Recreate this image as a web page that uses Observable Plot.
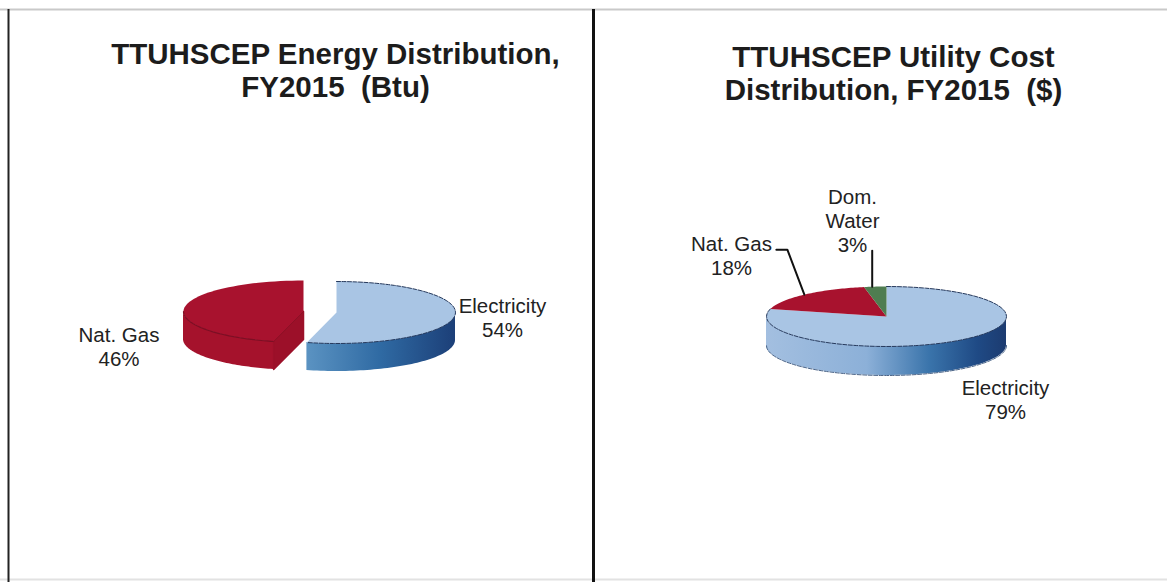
<!DOCTYPE html>
<html>
<head>
<meta charset="utf-8">
<script src="https://cdn.jsdelivr.net/npm/d3@7"></script>
<script src="https://cdn.jsdelivr.net/npm/@observablehq/plot@0.6"></script>
<style>html,body{margin:0;padding:0;background:#fff}svg{display:block}</style>
</head>
<body>
<script>
// --- data ---
const energyNames = ["Electricity", "Nat. Gas"];
const energyShares = [54, 46];
const costNames = ["Electricity", "Nat. Gas", "Dom. Water"];
const costShares = [79, 18, 3];
const energyTitle = "TTUHSCEP Energy Distribution,\nFY2015  (Btu)";
const costTitle = "TTUHSCEP Utility Cost\nDistribution, FY2015  ($)";

// --- layout / style ---
const W = 1167, H = 582, FONT = "Liberation Sans, Arial, sans-serif";
const RX = 119, RY = 31, DEPTH = 28;
const TOP = {"Electricity": "#a9c5e4", "Nat. Gas": "#a8122e", "Dom. Water": "#4f7d50"};

const angles = (names, shares) => {
  const arcs = d3.pie().sort(null).value(d => d)(shares);
  return names.map((name, i) => ({name, share: shares[i], a0: arcs[i].startAngle, a1: arcs[i].endAngle}));
};
const onRim = (c, a) => ({x: c.x + c.rx * Math.sin(a), y: c.y - c.ry * Math.cos(a)});
const rim = (c, a0, a1) => d3.range(0, 61).map(i => onRim(c, a0 + (a1 - a0) * i / 60));
const facePoly = (c, s) => [{x: c.x, y: c.y}, ...rim(c, s.a0, s.a1), {x: c.x, y: c.y}];
const frontWall = (c, s) => {
  const a0 = Math.max(s.a0, Math.PI / 2), a1 = Math.min(s.a1, 3 * Math.PI / 2);
  return a1 > a0 ? rim(c, a0, a1).map(p => ({x: p.x, y: p.y, y2: p.y + c.d})) : [];
};
const outline = (pts, o) => Plot.line(pts, {x: "x", y: "y", ...o});

const eSlices = angles(energyNames, energyShares);
const cSlices = angles(costNames, costShares);
const cE = {x: 336, y: 312, rx: RX, ry: RY, d: DEPTH};
const cG = {x: 303, y: 311, rx: 120, ry: RY, d: DEPTH};
const cC = {x: 886, y: 316, rx: 120, ry: 30, d: 29};

const dashEdge = {stroke: "#26395c", strokeWidth: 1, strokeDasharray: "4 1.5"};

// end wall of the gas slice, seen through the gap
const gasEnd = onRim(cG, eSlices[1].a0);
const gasCut = [
  {x: cG.x, y: cG.y}, {x: gasEnd.x, y: gasEnd.y}, {x: gasEnd.x, y: gasEnd.y + cG.d},
  {x: cG.x, y: cG.y + cG.d}, {x: cG.x, y: cG.y}
];

// leaders run from the middle of each small slice up to its label
const mid = s => onRim(cC, (s.a0 + s.a1) / 2);
const gasMid = mid(cSlices[1]), waterMid = mid(cSlices[2]);
const gasLeader = [{x: gasMid.x - 28, y: gasMid.y - 45}, {x: gasMid.x - 17, y: gasMid.y - 45}, gasMid];
const waterLeader = [{x: waterMid.x - 3, y: waterMid.y - 36}, {x: waterMid.x - 3, y: waterMid.y}];

const labelSpots = [
  {text: `${eSlices[0].name}\n${eSlices[0].share}%`, x: 502, y: 317},
  {text: `${eSlices[1].name}\n${eSlices[1].share}%`, x: 118.5, y: 346},
  {text: `Dom.\nWater\n${cSlices[2].share}%`, x: 852, y: 220},
  {text: `${cSlices[1].name}\n${cSlices[1].share}%`, x: 731, y: 255},
  {text: `${cSlices[0].name}\n${cSlices[0].share}%`, x: 1005, y: 399}
];

const defs = () => {
  const svg = d3.create("svg:defs");
  const grad = (id, stops) => {
    const g = svg.append("linearGradient").attr("id", id).attr("x1", 0).attr("x2", 1).attr("y1", 0).attr("y2", 0);
    stops.forEach(([o, c]) => g.append("stop").attr("offset", o).attr("stop-color", c));
  };
  grad("wallE", [[0, "#5b93c2"], [0.5, "#2f6aa3"], [1, "#1c3f78"]]);
  grad("wallC", [[0, "#a3bfe0"], [0.42, "#8cb0d8"], [0.68, "#3a74ab"], [0.88, "#1f4a85"], [1, "#1c3b70"]]);
  return svg.node();
};

const chart = Plot.plot({
  width: W, height: H, margin: 0,
  x: {domain: [0, W], range: [0, W], axis: null},
  y: {domain: [0, H], range: [0, H], axis: null},
  style: {background: "#fff", fontFamily: FONT},
  marks: [
    defs,
    // panel frame
    Plot.ruleY([9], {stroke: "#c9c9c9", strokeWidth: 2}),
    Plot.ruleY([579], {stroke: "#e2e2e2", strokeWidth: 2}),
    Plot.ruleX([8], {y1: 9, y2: H, stroke: "#222", strokeWidth: 2}),
    Plot.ruleX([593], {y1: 9, y2: H, stroke: "#111", strokeWidth: 3}),

    // energy pie: walls, then top faces
    Plot.areaY(frontWall(cE, eSlices[0]), {x: "x", y1: "y", y2: "y2", fill: "url(#wallE)"}),
    Plot.areaY(frontWall(cG, eSlices[1]), {x: "x", y1: "y", y2: "y2", fill: "#a5122c"}),
    outline(gasCut, {fill: "#9c1029", stroke: "#9c1029", strokeWidth: 1.5}),
    outline(facePoly(cE, eSlices[0]), {fill: TOP["Electricity"]}),
    outline(rim(cE, eSlices[0].a0, eSlices[0].a1), dashEdge),
    outline(facePoly(cG, eSlices[1]), {fill: TOP["Nat. Gas"]}),
    outline(rim(cG, eSlices[1].a0, Math.PI * 3 / 2), {stroke: "#7c0f24", strokeWidth: 1.2}),
    outline([{x: cG.x, y: cG.y}, gasEnd], {stroke: "#8c1026", strokeWidth: 1}),

    // cost pie
    Plot.areaY(frontWall(cC, cSlices[0]), {x: "x", y1: "y", y2: "y2", fill: "url(#wallC)"}),
    ...cSlices.map(s => outline(facePoly(cC, s), {fill: TOP[s.name]})),
    outline(rim(cC, cSlices[0].a0, cSlices[0].a1), dashEdge),
    outline(rim(cC, Math.PI / 2, Math.PI * 3 / 2).map(p => ({x: p.x, y: p.y + cC.d})), {...dashEdge, stroke: "#4a6488"}),
    outline(gasLeader, {stroke: "#111", strokeWidth: 2}),
    outline(waterLeader, {stroke: "#111", strokeWidth: 2}),

    // text
    Plot.text([energyTitle], {x: () => 335, y: () => 69, text: d => d, fontSize: 29.5, fontWeight: "bold", fill: "#1c1c1c", lineHeight: 1.12}),
    Plot.text([costTitle], {x: () => 893, y: () => 72, text: d => d, fontSize: 29.5, fontWeight: "bold", fill: "#1c1c1c", lineHeight: 1.12}),
    Plot.text(labelSpots, {x: "x", y: "y", text: "text", fontSize: 20.5, fill: "#222", lineHeight: 1.15})
  ]
});
document.body.appendChild(chart);
</script>
</body>
</html>
